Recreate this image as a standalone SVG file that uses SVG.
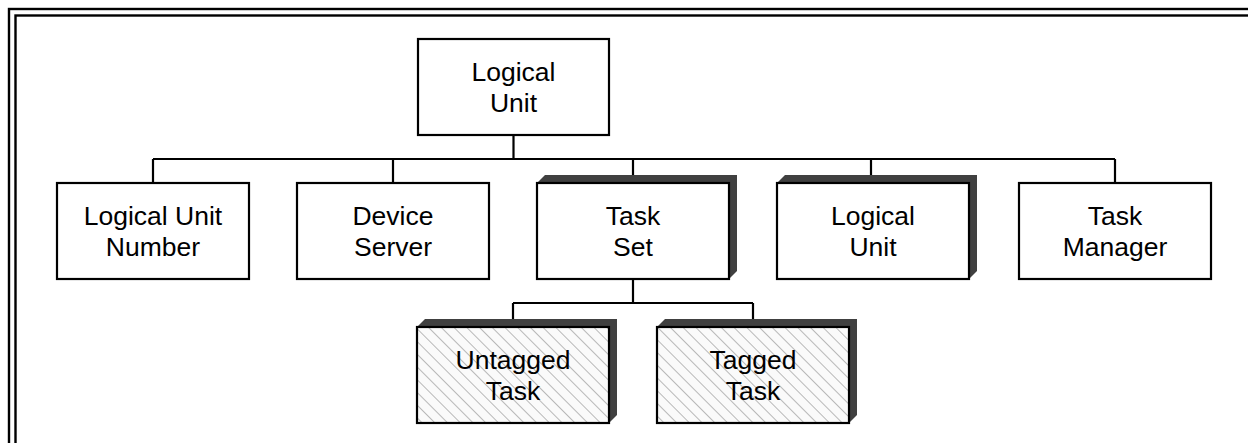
<svg xmlns="http://www.w3.org/2000/svg" width="1248" height="443" viewBox="0 0 1248 443">
<style>
.box{fill:#fff;stroke:#000;stroke-width:2.2}
.hbox{fill:url(#hatch);stroke:#000;stroke-width:2.2}
.sh{fill:#404040}
.lbl{font-family:"Liberation Sans",Arial,sans-serif;font-size:26.5px;fill:#000;text-anchor:middle}
.conn{fill:none;stroke:#000;stroke-width:2.2}
.frame{fill:none;stroke:#000;stroke-width:2.4}
</style>
<defs>
<pattern id="hatch" patternUnits="userSpaceOnUse" width="9" height="9" patternTransform="rotate(45)">
<rect width="9" height="9" fill="#fafafa"/>
<line x1="0" y1="0.5" x2="9" y2="0.5" stroke="#b8b8b8" stroke-width="1"/>
</pattern>
</defs>
<rect class="frame" x="9" y="9" width="1300" height="500"/>
<rect class="frame" x="15.5" y="15.5" width="1300" height="500"/>
<g id="connectors">
<path class="conn" d="M513.5,135 V159 M153,159 H1115 M153,159 V183 M393,159 V183 M633,159 V183 M871,159 V183 M1115,159 V183"/>
<path class="conn" d="M633,279 V303 M513,303 H753 M513,303 V327 M753,303 V327"/>
</g>
<g id="n-lu-top">
<rect class="box" x="418" y="39" width="191" height="96"/>
<text class="lbl" x="513.5" y="81">Logical</text>
<text class="lbl" x="513.5" y="112">Unit</text>
</g>
<g id="n-lun">
<rect class="box" x="57" y="183" width="192" height="96"/>
<text class="lbl" x="153" y="225">Logical Unit</text>
<text class="lbl" x="153" y="256">Number</text>
</g>
<g id="n-ds">
<rect class="box" x="297" y="183" width="192" height="96"/>
<text class="lbl" x="393" y="225">Device</text>
<text class="lbl" x="393" y="256">Server</text>
</g>
<g id="n-ts">
<polygon class="sh" points="537,183 545,175 737,175 737,271 729,279"/>
<rect class="box" x="537" y="183" width="192" height="96"/>
<text class="lbl" x="633" y="225">Task</text>
<text class="lbl" x="633" y="256">Set</text>
</g>
<g id="n-lu2">
<polygon class="sh" points="777,183 785,175 977,175 977,271 969,279"/>
<rect class="box" x="777" y="183" width="192" height="96"/>
<text class="lbl" x="873" y="225">Logical</text>
<text class="lbl" x="873" y="256">Unit</text>
</g>
<g id="n-tm">
<rect class="box" x="1019" y="183" width="192" height="96"/>
<text class="lbl" x="1115" y="225">Task</text>
<text class="lbl" x="1115" y="256">Manager</text>
</g>
<g id="n-ut">
<polygon class="sh" points="417,327 425,319 617,319 617,415 609,423"/>
<rect class="hbox" x="417" y="327" width="192" height="96"/>
<text class="lbl" x="513" y="369">Untagged</text>
<text class="lbl" x="513" y="400">Task</text>
</g>
<g id="n-tt">
<polygon class="sh" points="657,327 665,319 857,319 857,415 849,423"/>
<rect class="hbox" x="657" y="327" width="192" height="96"/>
<text class="lbl" x="753" y="369">Tagged</text>
<text class="lbl" x="753" y="400">Task</text>
</g>
</svg>
